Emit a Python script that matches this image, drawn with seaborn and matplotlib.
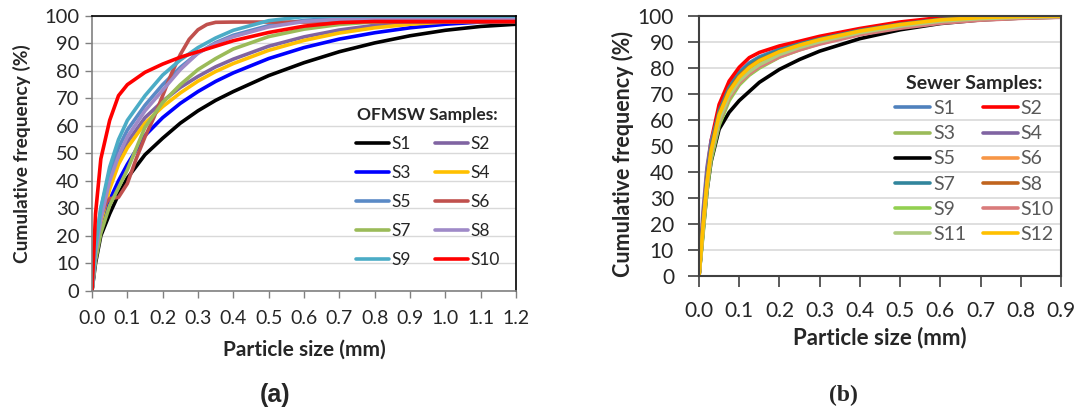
import matplotlib
matplotlib.use("Agg")
import matplotlib.pyplot as plt
from matplotlib.lines import Line2D
import numpy as np
import pandas as pd
import seaborn as sns

# ---------------- data: panel (a) OFMSW samples ----------------
ofmsw_size = [0, 0.01, 0.025, 0.05, 0.075, 0.1, 0.15, 0.2, 0.25, 0.3, 0.35, 0.4,
              0.5, 0.6, 0.7, 0.8, 0.9, 1.0, 1.1, 1.2]
of_S1 = [0, 10, 20, 28, 35, 41, 49.5, 55.5, 61, 65.5, 69.3, 72.5, 78.3, 83, 87, 90.2, 92.8, 94.8, 96.2, 97]
of_S2 = [0, 15, 27, 39, 48, 54, 63, 69, 74, 78, 81.5, 84.3, 89, 92.4, 94.9, 96.6, 97.7, 98.2, 98.4, 98.5]
of_S3 = [0, 12, 22, 33, 40, 46, 56.5, 63, 68.2, 72.5, 76.2, 79.3, 84.5, 88.5, 91.6, 93.9, 95.7, 97, 97.8, 98.2]
of_S4 = [0, 14, 25, 37, 46, 52, 61, 67, 72, 76.3, 79.8, 82.7, 87.5, 91.1, 93.8, 95.7, 97, 97.8, 98.2, 98.3]
of_S5 = [0, 16, 30, 43, 52, 58.5, 67.5, 75, 81.3, 86.5, 90.3, 93, 96.5, 98.4, 99.2, 99.5, 99.5, 99.5, 99.5, 99.5]
of_S7 = [0, 11, 21, 31, 37.5, 44, 59.5, 68.5, 75, 80.5, 84.5, 88, 92.5, 95.2, 96.9, 97.9, 98.3, 98.5, 98.5, 98.5]
of_S8 = [0, 14, 26, 40, 49, 56, 65.5, 73, 80.5, 86.5, 90, 92.5, 96, 98, 98.8, 99, 99, 99, 99, 99]
of_S9 = [0, 16, 30, 45, 55, 62, 71, 78.5, 84, 88.5, 92, 94.8, 98.3, 99.8, 100, 100, 100, 100, 100, 100]
of_S10 = [0, 28, 48, 62, 71, 75, 79.5, 82.5, 85, 87, 89, 91, 94, 96.3, 97.6, 98, 98, 98, 98, 98]
of_S6_size = [0, 0.01, 0.025, 0.04, 0.05, 0.075, 0.1, 0.125, 0.15, 0.175, 0.2, 0.225,
              0.25, 0.275, 0.3, 0.325, 0.35, 0.4, 0.6, 0.8, 1.0, 1.2]
of_S6 = [0, 14, 27, 32, 33.5, 34, 39, 48, 56, 63, 71, 79, 86, 91.5, 95, 96.9, 97.7,
         97.8, 97.8, 97.8, 97.8, 97.8]

ofmsw_labels = ["S1", "S2", "S3", "S4", "S5", "S6", "S7", "S8", "S9", "S10"]
ofmsw_colors = ["#000000", "#8064A2", "#0000FF", "#FFC000", "#5A8AC6",
                "#C0504D", "#9BBB59", "#9F8AC8", "#4BACC6", "#FF0000"]

# ---------------- data: panel (b) sewer samples ----------------
sewer_size = [0, 0.01, 0.02, 0.03, 0.05, 0.075, 0.1, 0.125, 0.15, 0.2, 0.25, 0.3,
              0.4, 0.5, 0.6, 0.7, 0.8, 0.9]
sw_S1 = [0, 20, 38, 50, 64, 73, 78.5, 82, 84.3, 87.3, 89.6, 91.5, 94.7, 97.1, 98.9, 99.7, 100, 100]
sw_S2 = [0, 22, 40, 52, 66, 75, 80.3, 84, 86, 88.5, 90.3, 92.2, 95.2, 97.7, 99.4, 100, 100, 100]
sw_S3 = [0, 18, 35, 46.5, 59.5, 68.5, 74, 77.5, 80.3, 84.5, 87.3, 89.6, 93.3, 95.9, 97.8, 98.8, 99.4, 99.7]
sw_S4 = [0, 25, 42, 52, 62.5, 70.5, 75.5, 79, 81.7, 85.3, 88, 90.2, 93.7, 96.2, 98.1, 99.1, 99.6, 99.9]
sw_S5 = [0, 17, 33, 44, 56.5, 63, 67.5, 71, 74.5, 79.5, 83.3, 86.5, 91.3, 94.7, 97.1, 98.5, 99.2, 99.6]
sw_S6 = [0, 19, 36, 47.5, 60.5, 69.5, 75, 78.5, 81.2, 85, 87.7, 89.9, 93.5, 96, 97.9, 98.9, 99.5, 99.8]
sw_S7 = [0, 20, 38, 50, 63.5, 72.5, 78, 81.5, 83.8, 87, 89.3, 91.2, 94.5, 96.9, 98.7, 99.5, 99.9, 100]
sw_S8 = [0, 20, 37, 49, 62.5, 71.5, 77, 80.5, 83, 86.3, 88.8, 90.8, 94.2, 96.7, 98.5, 99.4, 99.8, 100]
sw_S9 = [0, 16, 33, 44.5, 58, 67.5, 73.5, 77.3, 80, 84.2, 87, 89.4, 93.1, 95.7, 97.7, 98.7, 99.3, 99.6]
sw_S10 = [0, 18, 35, 46.5, 59.5, 68.5, 74.2, 77.8, 80.5, 84.3, 87, 89.2, 92.8, 95.3, 97.2, 98.4, 99.1, 99.5]
sw_S11 = [0, 18, 35.5, 47, 60, 69.3, 75, 78.6, 81.3, 85.2, 87.9, 90.1, 93.6, 96.1, 98, 99, 99.5, 99.8]
sw_S12 = [0, 19, 36, 48, 62, 71, 76.5, 80.2, 82.8, 86.3, 88.8, 90.9, 94.2, 96.7, 98.5, 99.4, 99.8, 100]

sewer_labels = ["S1", "S2", "S3", "S4", "S5", "S6", "S7", "S8", "S9", "S10", "S11", "S12"]
sewer_colors = ["#4F81BD", "#FF0000", "#9BBB59", "#8064A2", "#000000", "#F79646",
                "#31859C", "#C0641E", "#92D050", "#D97B7B", "#AFCB80", "#FFC000"]

# ---------------- tidy frames ----------------
of_series = {"S1": (ofmsw_size, of_S1), "S2": (ofmsw_size, of_S2), "S3": (ofmsw_size, of_S3),
             "S4": (ofmsw_size, of_S4), "S5": (ofmsw_size, of_S5), "S6": (of_S6_size, of_S6),
             "S7": (ofmsw_size, of_S7), "S8": (ofmsw_size, of_S8), "S9": (ofmsw_size, of_S9),
             "S10": (ofmsw_size, of_S10)}
sw_vals = [sw_S1, sw_S2, sw_S3, sw_S4, sw_S5, sw_S6, sw_S7, sw_S8, sw_S9, sw_S10, sw_S11, sw_S12]

rows = []
for lab in ofmsw_labels:
    xs, ys = of_series[lab]
    for x, y in zip(xs, ys):
        rows.append((lab, x, y))
df_a = pd.DataFrame(rows, columns=["sample", "size", "freq"])

rows = []
for lab, ys in zip(sewer_labels, sw_vals):
    for x, y in zip(sewer_size, ys):
        rows.append((lab, x, y))
df_b = pd.DataFrame(rows, columns=["sample", "size", "freq"])

# ---------------- style ----------------
sns.set_theme(style="white")
plt.rcParams["font.family"] = ["Lato", "DejaVu Sans"]

W, H = 1083, 416
fig = plt.figure(figsize=(W / 100, H / 100), dpi=100)

def px_axes(x0, x1, ytop, ybot):
    return fig.add_axes([x0 / W, (H - ybot) / H, (x1 - x0) / W, (ybot - ytop) / H])

axA = px_axes(92, 516, 16, 290.7)
axB = px_axes(699, 1061, 16, 276.3)

lw = 2.6
sns.lineplot(data=df_a, x="size", y="freq", hue="sample", hue_order=ofmsw_labels,
             palette=dict(zip(ofmsw_labels, ofmsw_colors)), estimator=None, sort=False,
             linewidth=lw, legend=False, ax=axA)
sns.lineplot(data=df_b, x="size", y="freq", hue="sample", hue_order=sewer_labels,
             palette=dict(zip(sewer_labels, sewer_colors)), estimator=None, sort=False,
             linewidth=lw, legend=False, ax=axB)

# ---- panel (a) axes ----
axA.set_xlim(0, 1.2)
axA.set_ylim(0, 100)
axA.set_xticks(np.round(np.arange(0, 1.21, 0.1), 1))
axA.set_xticklabels([f"{v:.1f}" for v in np.arange(0, 1.21, 0.1)])
axA.set_yticks(range(0, 101, 10))
axA.yaxis.grid(True, color="#D9D9D9", lw=1.0)
axA.set_axisbelow(True)
for s in ["left", "bottom"]:
    axA.spines[s].set_color("#808080")
    axA.spines[s].set_linewidth(1.2)
for s in ["top", "right"]:
    axA.spines[s].set_color("#000000")
    axA.spines[s].set_linewidth(1.2)
axA.tick_params(axis="x", direction="out", length=5, width=1, color="#808080",
                labelsize=14, pad=9, bottom=True)
axA.tick_params(axis="y", direction="out", length=5, width=1, color="#808080",
                labelsize=14.5, pad=4, left=True)
axA.set_xlabel("Particle size (mm)", fontsize=15, fontweight="bold")
axA.set_ylabel("Cumulative frequency (%)", fontsize=13.8, fontweight="bold")
axA.xaxis.set_label_coords(0.5, (290.7 - 350) / 274.7)
axA.xaxis.label.set_verticalalignment("center")
axA.yaxis.set_label_coords((22 - 92) / 424, 0.5)
axA.yaxis.label.set_verticalalignment("center")

# ---- panel (b) axes ----
axB.set_xlim(0, 0.9)
axB.set_ylim(0, 100)
axB.set_xticks(np.round(np.arange(0, 0.91, 0.1), 1))
axB.set_xticklabels([f"{v:.1f}" for v in np.arange(0, 0.91, 0.1)])
axB.set_yticks(range(0, 101, 10))
axB.yaxis.grid(True, color="#D9D9D9", lw=1.2)
axB.set_axisbelow(True)
for s in axB.spines.values():
    s.set_color("#404040")
    s.set_linewidth(1.5)
axB.tick_params(axis="x", direction="out", length=8, width=1.2, color="#404040",
                labelsize=15, pad=10, bottom=True)
axB.tick_params(axis="y", direction="out", length=8, width=1.2, color="#404040",
                labelsize=15, pad=10, left=True)
axB.set_xlabel("Particle size (mm)", fontsize=16, fontweight="bold")
axB.set_ylabel("Cumulative frequency (%)", fontsize=15.5, fontweight="bold")
axB.xaxis.set_label_coords(0.5, (276.3 - 338) / 260.3)
axB.xaxis.label.set_verticalalignment("center")
axB.yaxis.set_label_coords((623 - 699) / 362, 0.47)
axB.yaxis.label.set_verticalalignment("center")

# ---- legends (row-wise order S1 S2 / S3 S4 ...) ----
def colmajor(n):
    return list(range(0, n, 2)) + list(range(1, n, 2))

hA = [Line2D([0], [0], color=c, lw=lw) for c in ofmsw_colors]
idx = colmajor(len(ofmsw_labels))
legA = axA.legend([hA[i] for i in idx], [ofmsw_labels[i] for i in idx], ncol=2,
                  loc="upper left", bbox_to_anchor=(356 / W, 1 - 107 / H),
                  bbox_transform=fig.transFigure, frameon=False, fontsize=12.5,
                  title="OFMSW Samples:", title_fontproperties={"weight": "bold", "size": 12.5},
                  handlelength=1.9, handletextpad=0.15, columnspacing=1.35,
                  labelspacing=0.75, borderpad=0, borderaxespad=0)

hB = [Line2D([0], [0], color=c, lw=lw) for c in sewer_colors]
idx = colmajor(len(sewer_labels))
legB = axB.legend([hB[i] for i in idx], [sewer_labels[i] for i in idx], ncol=2,
                  loc="upper left", bbox_to_anchor=(895 / W, 1 - 75 / H),
                  bbox_transform=fig.transFigure, frameon=False, fontsize=14,
                  title="Sewer Samples:", title_fontproperties={"weight": "bold", "size": 14},
                  handlelength=1.8, handletextpad=0.15, columnspacing=0.85,
                  labelspacing=0.42, borderpad=0, borderaxespad=0)
for t in legB.get_texts():
    t.set_color("#595959")

# ---- panel letters ----
fig.text(275 / W, 1 - 395 / H, "(a)", ha="center", va="center", fontsize=18,
         fontweight="bold", family=["Liberation Sans", "DejaVu Sans"])
fig.text(843 / W, 1 - 395 / H, "(b)", ha="center", va="center", fontsize=17,
         fontweight="bold", family=["Liberation Serif", "DejaVu Serif"])

fig.savefig("out.png", dpi=100)
